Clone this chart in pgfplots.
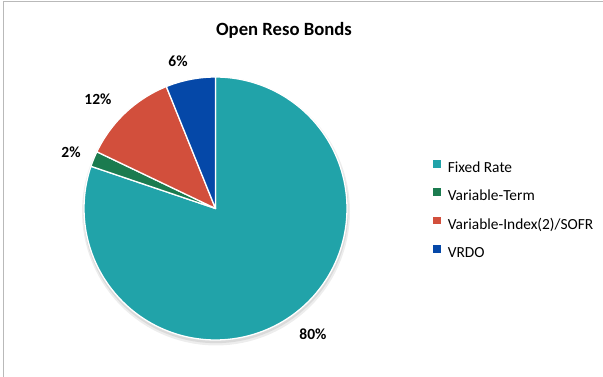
\documentclass[border=0pt]{standalone}
\usepackage{pgfplots}
\pgfplotsset{compat=1.18}
\usepackage{pgfplotstable}
\usepackage{fontspec}
\setmainfont{Carlito}
\definecolor{cFixed}{HTML}{21A3A9}
\definecolor{cTerm}{HTML}{1B7B4F}
\definecolor{cIndex}{HTML}{D24F3C}
\definecolor{cVRDO}{HTML}{0548A8}
\pgfplotstableread{
label pct
Fixed 80.2
Term 1.9
Index 11.8
VRDO 6.1
}\piedata
\begin{document}
\begin{tikzpicture}
\path[use as bounding box] (0,0) rectangle (603pt,377pt);
\pgfplotstablegetelem{0}{pct}\of\piedata\pgfmathsetmacro\pA{\pgfplotsretval}
\pgfplotstablegetelem{1}{pct}\of\piedata\pgfmathsetmacro\pB{\pgfplotsretval}
\pgfplotstablegetelem{2}{pct}\of\piedata\pgfmathsetmacro\pC{\pgfplotsretval}
\pgfplotstablegetelem{3}{pct}\of\piedata\pgfmathsetmacro\pD{\pgfplotsretval}
\pgfmathsetmacro\aA{90-3.6*\pA}
\pgfmathsetmacro\aB{\aA-3.6*\pB}
\pgfmathsetmacro\aC{\aB-3.6*\pC}
\pgfmathsetmacro\aD{\aC-3.6*\pD}
\def\cx{215.5}\def\cy{168.5}\def\r{131.5}
\begin{axis}[
  at={(0pt,0pt)}, anchor=south west,
  scale only axis, width=603pt, height=377pt,
  xmin=0, xmax=603, ymin=0, ymax=377,
  hide axis, clip=false,
  legend cell align=left,
  legend image code/.code={\fill[#1,draw=none] (0pt,1.2pt) rectangle (7.6pt,8.8pt);},
  legend style={draw=none, fill=none, inner sep=0pt, at={(axis cs:433,217)}, anchor=north west,
    font=\fontsize{15.4}{18}\selectfont, row sep=12pt, column sep=7pt,
    nodes={inner sep=0pt, text height=11pt, text depth=4pt}},
]
% soft shadow
\addplot[forget plot, fill=black, fill opacity=0.07, draw=none, domain=0:360, samples=120]
  ({\cx+0.5+(\r+2.5)*cos(x)},{\cy-3+(\r+2.5)*sin(x)});
\addplot[forget plot, fill=black, fill opacity=0.08, draw=none, domain=0:360, samples=120]
  ({\cx+0.3+(\r+1.2)*cos(x)},{\cy-2+(\r+1.2)*sin(x)});
% wedges
\addplot[fill=cFixed, draw=white, line width=1.3pt, line join=round, domain=\aA:90, samples=150]
  ({\cx+\r*cos(x)},{\cy+\r*sin(x)}) -- (axis cs:\cx,\cy) -- cycle;
\addlegendentry{Fixed Rate}
\addplot[fill=cTerm, draw=white, line width=1.3pt, line join=round, domain=\aB:\aA, samples=8]
  ({\cx+\r*cos(x)},{\cy+\r*sin(x)}) -- (axis cs:\cx,\cy) -- cycle;
\addlegendentry{Variable-Term}
\addplot[fill=cIndex, draw=white, line width=1.3pt, line join=round, domain=\aC:\aB, samples=30]
  ({\cx+\r*cos(x)},{\cy+\r*sin(x)}) -- (axis cs:\cx,\cy) -- cycle;
\addlegendentry{Variable-Index(2)/SOFR}
\addplot[fill=cVRDO, draw=white, line width=1.3pt, line join=round, domain=\aD:\aC, samples=15]
  ({\cx+\r*cos(x)},{\cy+\r*sin(x)}) -- (axis cs:\cx,\cy) -- cycle;
\addlegendentry{VRDO}
% labels
\node[font=\fontsize{18.7}{22}\selectfont\bfseries] at (axis cs:284,347) {Open Reso Bonds};
\node[font=\fontsize{15.5}{18}\selectfont\bfseries] at (axis cs:178,316) {6\%};
\node[font=\fontsize{15.5}{18}\selectfont\bfseries] at (axis cs:98,278) {12\%};
\node[font=\fontsize{15.5}{18}\selectfont\bfseries] at (axis cs:71,225) {2\%};
\node[font=\fontsize{15.5}{18}\selectfont\bfseries] at (axis cs:313,43) {80\%};
% frame
\draw[gray!55, line width=1pt] (axis cs:3.3,0) -- (axis cs:3.3,375.8) -- (axis cs:603,375.8);
\end{axis}
\end{tikzpicture}
\end{document}
